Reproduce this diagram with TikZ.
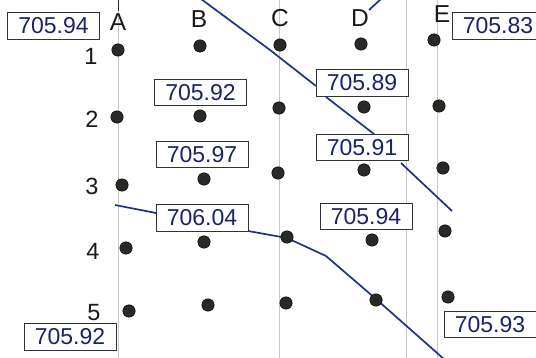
\documentclass[tikz,border=0pt]{standalone}
\usepackage{fontspec}
\setmainfont{Liberation Sans}
\definecolor{navy}{RGB}{25,35,105}
\definecolor{contour}{RGB}{30,50,135}
\definecolor{gridgrey}{RGB}{200,200,200}
\definecolor{dotfill}{RGB}{40,42,38}
\begin{document}
\begin{tikzpicture}[x=1pt,y=-1pt,
  valbox/.style={draw=black!80,line width=1pt,fill=white,minimum width=92pt,minimum height=26.5pt,inner sep=0pt,text=navy,font=\fontsize{23}{23}\selectfont},
  collabel/.style={anchor=base,font=\fontsize{24.5}{24.5}\selectfont,text=black!90},
  rowlabel/.style={anchor=base,font=\fontsize{23.5}{23.5}\selectfont,text=black!90},
  pt/.style={circle,fill=dotfill,draw=black,line width=0.4pt,minimum size=12.5pt,inner sep=0pt},
  gridline/.style={draw=gridgrey,line width=0.8pt},
  cline/.style={draw=contour,line width=1.7pt,line join=round}
]
\useasboundingbox (0,0) rectangle (536,358);
\fill[white] (0,0) rectangle (536,358);
% grid lines
\draw[gridline] (118,0) -- (118,358);
\draw[black!85,line width=0.9pt] (118,0) -- (118,11);
\draw[gridline] (279,0) -- (279,358);
\draw[gridline] (406,0) -- (406,358);
\draw[gridline] (437.5,0) -- (437.5,358);
% contour lines
\draw[cline] (201,-1) -- (270,50) -- (316,86);
\draw[cline] (326,97) -- (374,134);
\draw[cline] (401,163) -- (419,180) -- (452,211);
\draw[cline] (369,10) -- (381,-1);
\draw[cline] (115,205) -- (156,213);
\draw[cline] (248,231) -- (287,238) -- (326,256) -- (376,299) -- (445,360);
% column labels
\node[collabel] (lA) at (118,31) {A};
\node[collabel] (lB) at (199,28) {B};
\node[collabel] (lC) at (280,27) {C};
\node[collabel] (lD) at (360,27) {D};
\node[collabel] (lE) at (442,23) {E};
% row labels
\node[rowlabel] (r1) at (91,65) {1};
\node[rowlabel] (r2) at (92,128) {2};
\node[rowlabel] (r3) at (92,195) {3};
\node[rowlabel] (r4) at (93,260) {4};
\node[rowlabel] (r5) at (94,321) {5};
% dots
\node[pt] (A1) at (118,50) {};
\node[pt] (B1) at (200,46) {};
\node[pt] (C1) at (280,45) {};
\node[pt] (D1) at (361,44) {};
\node[pt] (E1) at (434,40) {};
\node[pt] (A2) at (117,117) {};
\node[pt] (B2) at (200,116) {};
\node[pt] (C2) at (279,108) {};
\node[pt] (D2) at (364,107) {};
\node[pt] (E2) at (439,106) {};
\node[pt] (A3) at (122,185) {};
\node[pt] (B3) at (204,179) {};
\node[pt] (C3) at (278,173) {};
\node[pt] (D3) at (364,170) {};
\node[pt] (E3) at (443,168) {};
\node[pt] (A4) at (126,248) {};
\node[pt] (B4) at (204,242) {};
\node[pt] (C4) at (287,237) {};
\node[pt] (D4) at (372,240) {};
\node[pt] (E4) at (445,231) {};
\node[pt] (A5) at (129,311) {};
\node[pt] (B5) at (208,305) {};
\node[pt] (C5) at (286,303) {};
\node[pt] (D5) at (376,300) {};
\node[pt] (E5) at (448,297) {};
% value boxes
\node[valbox] (v1) at (53.5,26) {705.94};
\node[valbox] (v2) at (200.5,92.5) {705.92};
\node[valbox] (v3) at (202,154.5) {705.97};
\node[valbox] (v4) at (498,26) {705.83};
\node[valbox] (v5) at (362,83) {705.89};
\node[valbox] (v6) at (362,147.5) {705.91};
\node[valbox] (v7) at (202,218) {706.04};
\node[valbox] (v8) at (366,216.5) {705.94};
\node[valbox] (v9) at (70,337) {705.92};
\node[valbox] (v10) at (490,324.5) {705.93};
\end{tikzpicture}
\end{document}
